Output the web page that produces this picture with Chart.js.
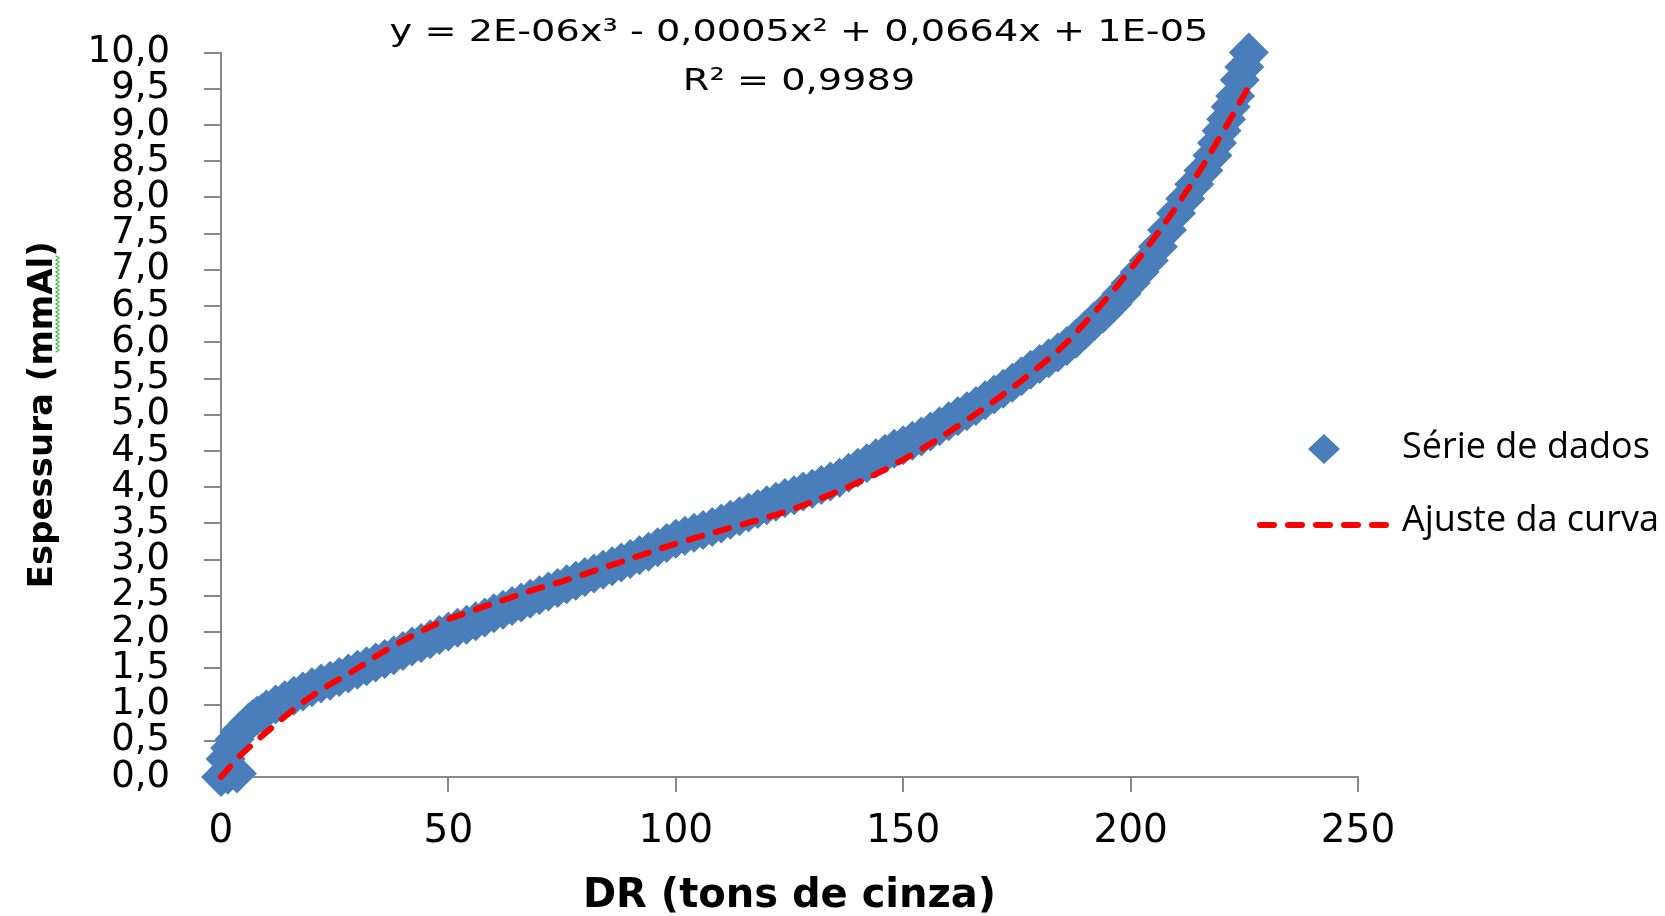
<!DOCTYPE html>
<html>
<head>
<meta charset="utf-8">
<script src="https://cdn.jsdelivr.net/npm/chart.js@4"></script>
<style>
  html, body { margin: 0; padding: 0; background: #fff; }
  #wrap { width: 1665px; height: 916px; }
</style>
</head>
<body>
<div id="wrap"><canvas id="chart" width="1665" height="916"></canvas></div>
<script>
// valores
const dadosX = [0, 1.5, 3.5, 1, 2, 3, 4, 5, 6, 7, 8, 9, 10, 12, 14, 16, 18, 20, 22, 24, 26, 28, 30,
  32, 34, 36, 38, 40, 42, 44, 46, 48, 50, 52, 54, 56, 58, 60, 62, 64, 66, 68, 70, 72, 74, 76, 78, 80,
  82, 84, 86, 88, 90, 92, 94, 96, 98, 100, 102, 104, 106, 108, 110, 112, 114, 116, 118, 120, 122, 124,
  126, 128, 130, 132, 134, 136, 138, 140, 142, 144, 146, 148, 150, 152, 154, 156, 158, 160, 162, 164,
  166, 168, 170, 172, 174, 176, 178, 180, 182, 184, 186, 188, 190, 192, 194, 196, 198, 200, 202, 204,
  206, 208, 210, 212, 214, 216, 218, 219, 220, 221, 222, 223, 224, 225, 226];
const dadosY = [0.00, 0.03, 0.05, 0.25, 0.40, 0.52, 0.62, 0.68, 0.75, 0.80, 0.85, 0.88, 0.93, 1.00, 1.06,
  1.12, 1.18, 1.24, 1.29, 1.33, 1.38, 1.43, 1.48, 1.53, 1.58, 1.63, 1.68, 1.74, 1.80, 1.85, 1.90, 1.96,
  2.01, 2.06, 2.10, 2.15, 2.20, 2.26, 2.31, 2.36, 2.41, 2.46, 2.51, 2.56, 2.61, 2.66, 2.71, 2.76, 2.81,
  2.86, 2.91, 2.96, 3.01, 3.06, 3.11, 3.17, 3.23, 3.29, 3.33, 3.37, 3.41, 3.45, 3.50, 3.55, 3.60, 3.65,
  3.70, 3.75, 3.80, 3.85, 3.89, 3.94, 3.98, 4.03, 4.08, 4.13, 4.20, 4.27, 4.33, 4.40, 4.46, 4.53, 4.58,
  4.64, 4.70, 4.77, 4.84, 4.91, 4.98, 5.05, 5.12, 5.20, 5.28, 5.36, 5.44, 5.53, 5.62, 5.70, 5.78, 5.86,
  5.95, 6.05, 6.17, 6.29, 6.40, 6.53, 6.67, 6.82, 6.97, 7.13, 7.32, 7.55, 7.78, 7.98, 8.18, 8.37, 8.58,
  8.75, 8.92, 9.08, 9.25, 9.40, 9.62, 9.80, 10.00];

const ajusteX = [0, 4, 8, 13, 18, 24, 29, 36, 43, 48, 55, 62, 68, 75, 88, 100, 112, 124, 134, 143, 150,
  157, 165, 172, 179, 185, 190, 196, 201, 206, 211, 216, 221, 226];
const ajusteY = [0, 0.28, 0.51, 0.78, 1.03, 1.28, 1.46, 1.74, 1.98, 2.13, 2.29, 2.44, 2.57, 2.70, 2.97,
  3.22, 3.44, 3.66, 3.90, 4.15, 4.38, 4.64, 4.97, 5.28, 5.62, 5.94, 6.27, 6.70, 7.09, 7.51, 7.96, 8.45,
  8.98, 9.53];

const legendas = ['Série de dados', 'Ajuste da curva'];
const equacao = ['y = 2E-06x³ - 0,0005x² + 0,0664x + 1E-05', 'R² = 0,9989'];
const tituloX = 'DR (tons de cinza)';
const tituloY = 'Espessura (mmAl)';

const AZUL = '#4A7EBB';
const VERMELHO = '#FF0000';
const CINZA = '#888888';

Chart.defaults.font.family = '"DejaVu Sans"';
Chart.defaults.color = '#000';

// equação da linha de tendência + legenda
const textosPlugin = {
  id: 'textos',
  afterDraw(chart) {
    const ctx = chart.ctx;
    ctx.save();
    ctx.fillStyle = '#000';
    ctx.textAlign = 'center';
    ctx.textBaseline = 'middle';
    ctx.font = '31px "DejaVu Sans"';
    [[equacao[0], 33], [equacao[1], 82]].forEach(([t, y]) => {
      ctx.save();
      ctx.translate(799, y);
      ctx.scale(1.235, 1);
      ctx.fillText(t, 0, 0);
      ctx.restore();
    });

    // legenda
    ctx.fillStyle = AZUL;
    ctx.beginPath();
    ctx.moveTo(1324 - 16, 449);
    ctx.lineTo(1324, 449 - 15);
    ctx.lineTo(1324 + 16, 449);
    ctx.lineTo(1324, 449 + 15);
    ctx.closePath();
    ctx.fill();

    ctx.strokeStyle = VERMELHO;
    ctx.lineWidth = 6;
    ctx.lineCap = 'round';
    ctx.setLineDash([14, 14]);
    ctx.beginPath();
    ctx.moveTo(1260, 525);
    ctx.lineTo(1390, 525);
    ctx.stroke();
    ctx.setLineDash([]);

    ctx.fillStyle = '#000';
    ctx.textAlign = 'left';
    ctx.font = '36px "Open Sans"';
    ctx.fillText(legendas[0], 1402, 448);
    ctx.fillText(legendas[1], 1402, 521);

    // sublinhado ondulado verde sob "mmAl" (corretor ortográfico)
    ctx.strokeStyle = '#3CB043';
    ctx.lineWidth = 1.2;
    ctx.beginPath();
    for (let y = 256, k = 0; y <= 352; y += 2, k++) {
      const x = 57.5 + (k % 2 ? 1.5 : -1.5);
      if (k === 0) ctx.moveTo(x, y); else ctx.lineTo(x, y);
    }
    ctx.stroke();
    ctx.restore();
  }
};

const ctx = document.getElementById('chart').getContext('2d');
new Chart(ctx, {
  type: 'scatter',
  data: {
    datasets: [
      {
        label: legendas[0],
        data: dadosX.map((x, i) => ({ x: x, y: dadosY[i] })),
        pointStyle: 'rectRot',
        pointRadius: 20,
        pointBackgroundColor: AZUL,
        pointBorderColor: AZUL,
        pointBorderWidth: 0,
        clip: false,
        order: 2
      },
      {
        label: legendas[1],
        data: ajusteX.map((x, i) => ({ x: x, y: ajusteY[i] })),
        showLine: true,
        pointRadius: 0,
        borderColor: VERMELHO,
        borderWidth: 6,
        borderDash: [14, 14],
        borderCapStyle: 'round',
        cubicInterpolationMode: 'monotone',
        clip: false,
        order: 1
      }
    ]
  },
  options: {
    responsive: false,
    animation: false,
    layout: { padding: { top: 45, right: 307, left: 0, bottom: 0 } },
    plugins: {
      legend: { display: false },
      tooltip: { enabled: false }
    },
    scales: {
      x: {
        type: 'linear',
        min: 0,
        max: 250,
        ticks: {
          stepSize: 50,
          autoSkip: false,
          padding: 16,
          font: { size: 39 },
          color: '#000'
        },
        grid: { drawOnChartArea: false, drawTicks: true, tickLength: 15, color: CINZA, lineWidth: 2 },
        border: { color: CINZA, width: 2 },
        title: {
          display: true,
          text: tituloX,
          font: { size: 40, weight: 'bold', lineHeight: 0.95 },
          padding: 0,
          color: '#000'
        },
        afterFit(scale) { scale.height = 139; }
      },
      y: {
        type: 'linear',
        min: 0,
        max: 10,
        ticks: {
          stepSize: 0.5,
          autoSkip: false,
          padding: 34,
          font: { size: 37, lineHeight: 1 },
          color: '#000',
          callback: v => v.toFixed(1).replace('.', ',')
        },
        grid: { drawOnChartArea: false, drawTicks: true, tickLength: 17, color: CINZA, lineWidth: 2 },
        border: { color: CINZA, width: 2 },
        title: {
          display: true,
          text: tituloY,
          font: { size: 34, weight: 'bold', lineHeight: 1.2 },
          padding: { top: 23, bottom: 0 },
          color: '#000'
        },
        afterFit(scale) { scale.width = 221; }
      }
    }
  },
  plugins: [textosPlugin]
});
</script>
</body>
</html>
